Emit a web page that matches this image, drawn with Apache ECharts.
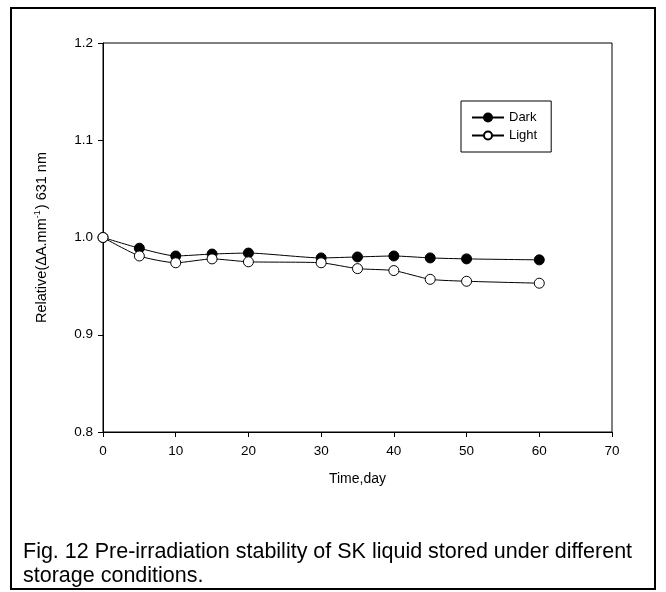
<!DOCTYPE html>
<html><head><meta charset="utf-8">
<script src="https://cdn.jsdelivr.net/npm/echarts@6/dist/echarts.min.js"></script>
<style>html,body{margin:0;padding:0;background:#fff}#c{width:666px;height:592px}</style>
</head><body><div id="c"></div>
<script>
const days = [0, 5, 10, 15, 20, 30, 35, 40, 45, 50, 60];
const darkValues = [1.000, 0.989, 0.981, 0.983, 0.984, 0.979, 0.980, 0.981, 0.979, 0.978, 0.977];
const lightValues = [1.000, 0.981, 0.974, 0.978, 0.975, 0.974, 0.968, 0.966, 0.957, 0.955, 0.953];
const seriesNames = ['Dark', 'Light'];
const captionLines = ['Fig. 12 Pre-irradiation stability of SK liquid stored under different', 'storage conditions.'];

const F = 'Liberation Sans, Arial, sans-serif';
const chart = echarts.init(document.getElementById('c'), null, {renderer: 'canvas'});
const pair = (xs, ys) => xs.map((x, i) => [x, ys[i]]);
chart.setOption({
  animation: false,
  backgroundColor: '#fff',
  grid: {left: 103, right: 54, top: 43, bottom: 160, show: true, borderColor: '#000', borderWidth: 1, backgroundColor: 'transparent'},
  legend: {
    data: seriesNames, orient: 'vertical', left: 461, top: 101,
    borderColor: '#000', borderWidth: 1, padding: [10, 14, 10, 10], itemGap: 5,
    itemWidth: 32, itemHeight: 10,
    textStyle: {fontFamily: F, fontSize: 13, color: '#000'}
  },
  xAxis: {
    type: 'value', min: 0, max: 70, interval: 10,
    name: 'Time,day', nameLocation: 'middle', nameGap: 40,
    nameTextStyle: {fontFamily: F, fontSize: 14, color: '#000'},
    axisLine: {lineStyle: {color: '#000', width: 1}},
    axisTick: {inside: false, length: 5, lineStyle: {color: '#000'}},
    axisLabel: {fontFamily: F, fontSize: 13.5, color: '#000', margin: 12},
    splitLine: {show: false}
  },
  yAxis: {
    type: 'value', min: 0.8, max: 1.2, interval: 0.1,
    name: '{a|Relative(ΔA.mm}{s|-1}{a|) 631 nm}', nameLocation: 'middle', nameGap: 52,
    nameTextStyle: {rich: {
      a: {fontFamily: F, fontSize: 14.5, color: '#000'},
      s: {fontFamily: F, fontSize: 9, color: '#000', verticalAlign: 'top', padding: [0, 1, 9, 0]}
    }},
    axisLine: {lineStyle: {color: '#000', width: 1}},
    axisTick: {inside: false, length: 5, lineStyle: {color: '#000'}},
    axisLabel: {fontFamily: F, fontSize: 13.5, color: '#000', margin: 10, formatter: v => v.toFixed(1)},
    splitLine: {show: false}
  },
  series: [
    {name: seriesNames[0], type: 'line', data: pair(days, darkValues), smooth: 0.2,
     symbol: 'circle', symbolSize: 10, lineStyle: {color: '#000', width: 1},
     itemStyle: {color: '#000', borderColor: '#000', borderWidth: 1}},
    {name: seriesNames[1], type: 'line', data: pair(days, lightValues), smooth: 0.2,
     symbol: 'circle', symbolSize: 10, lineStyle: {color: '#000', width: 1},
     itemStyle: {color: '#fff', borderColor: '#000', borderWidth: 1}, z: 3}
  ],
  graphic: [
    {type: 'rect', shape: {x: 11, y: 8, width: 644, height: 581}, style: {fill: 'none', stroke: '#000', lineWidth: 2}, silent: true},
    {type: 'text', left: 23, top: 540, style: {text: captionLines.join('\n'), font: '21.5px ' + F, fill: '#000', lineHeight: 24}}
  ]
});
</script></body></html>
